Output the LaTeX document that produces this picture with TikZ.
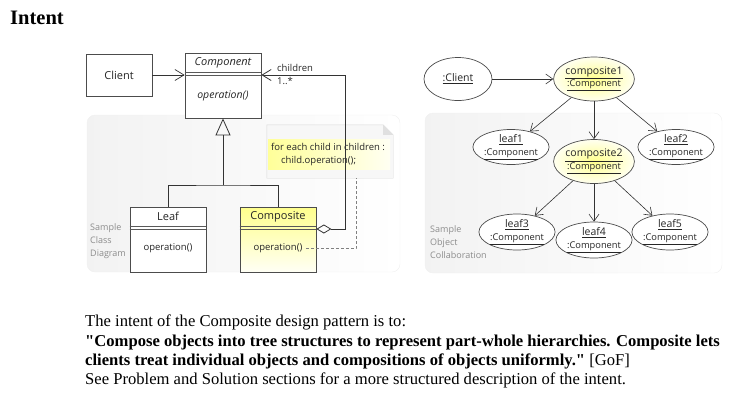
\documentclass[tikz,border=0pt]{standalone}
\usepackage{fontspec}
\setmainfont{Liberation Serif}[Ligatures=TeXOff]
\newfontfamily\umlfont{Open Sans}
\newcommand\objtype[1]{{\fontsize{9.3}{10}\selectfont\underline{#1}}}
\usepackage{tikz}
\usetikzlibrary{shapes,arrows.meta,positioning,calc}

\begin{document}
\begin{tikzpicture}[x=1pt, y=-1pt,
        cls/.style={rectangle, draw=black!70, line width=0.8pt, minimum width=76pt, minimum height=65pt, inner sep=0pt, fill=white},
        actor/.style={cls, minimum width=66pt, minimum height=42pt, font=\umlfont\fontsize{11}{12}\selectfont, text=black!85},
        hot/.style={top color=yellow!45, bottom color=yellow!4},
        hotobj/.style={inner color=yellow!45, outer color=yellow!6},
        obj/.style={ellipse, draw=black!70, line width=0.7pt, fill=white, inner sep=0pt, align=center, text=black!85, font=\umlfont\fontsize{10.5}{12.5}\selectfont},
        lbl/.style={font=\umlfont\fontsize{11}{12}\selectfont, text=black!85},
        op/.style={font=\umlfont\fontsize{9.5}{11}\selectfont, text=black!85},
        role/.style={font=\umlfont\fontsize{9.5}{10}\selectfont, text=black!85, anchor=west, inner sep=0pt},
        notetext/.style={font=\umlfont\fontsize{9.5}{10}\selectfont, text=black!85, anchor=west, inner sep=0pt},
        sep/.style={draw=black!65, line width=0.6pt},
        panel/.style={rounded corners=8pt, draw=black!6, left color=black!5, right color=white},
        hint/.style={font=\umlfont\fontsize{9}{13}\selectfont, text=black!45, align=left, anchor=north west, inner sep=0pt},
        gen/.style={line width=0.8pt, draw=black!80},
        inherit/.style={arrows={-Triangle[open, length=17pt, width=15pt]}},
        assoc/.style={arrows={-Straight Barb[length=9pt, width=11pt]}, line width=0.7pt, draw=black!80},
        aggr/.style={arrows={Diamond[open, length=15pt, width=9pt]-Straight Barb[length=9pt, width=11pt]}, line width=0.8pt, draw=black!80},
        link/.style={arrows={-Straight Barb[length=7pt, width=10pt]}, line width=0.6pt, draw=black!80},
        para/.style={anchor=north west, align=left, inner sep=0pt, font=\fontsize{16.6}{19.3}\selectfont}]

    \useasboundingbox (0,0) rectangle (750,408);

    \node[anchor=base west, inner sep=0pt, font=\bfseries\fontsize{20.5}{24}\selectfont] (title) at (10,24) {Intent};

    % class diagram
    \path[panel] (87,115) rectangle (400,272);
    \node[hint] (classHint) at (90,223) {Sample\\Class\\Diagram};

    \node[actor] (client) at (119,75) {Client};
    \node[cls] (component) at (223,85.5) {};
    \node[cls] (leaf) at (168,239.5) {};
    \node[cls, hot] (composite) at (278,239.5) {};

    \node[lbl] at ([yshift=-10pt]component.north) {\itshape Component};
    \node[op] at ([yshift=-43pt]component.north) {\fontsize{10.5}{11}\selectfont\itshape operation()};
    \node[lbl] at ([yshift=-10pt]leaf.north) {Leaf};
    \node[op] (leafOp) at ([yshift=-42pt]leaf.north) {operation()};
    \node[lbl] at ([yshift=-10pt]composite.north) {Composite};
    \node[op] (compOp) at ([yshift=-42pt]composite.north) {operation()};

    \foreach \c in {component, leaf, composite} {
        \draw[sep] ([yshift=-20pt]\c.north west) -- ([yshift=-20pt]\c.north east);
        \draw[sep] ([yshift=-23pt]\c.north west) -- ([yshift=-23pt]\c.north east);
    }

    \node[minimum width=126pt, minimum height=53pt, inner sep=0pt] (note) at (330,151.5) {};
    \draw[draw=black!15, fill=black!3] (note.south west) -- (note.north west) -- ([xshift=-10pt]note.north east)
        -- ([yshift=-10pt]note.north east) -- (note.south east) -- cycle;
    \fill[black!12] ([xshift=-10pt]note.north east) -- ([xshift=-10pt, yshift=-10pt]note.north east) -- ([yshift=-10pt]note.north east) -- cycle;
    \fill[left color=yellow!40, right color=yellow!5] (268,139) rectangle (390,169);
    \node[notetext] (loop) at (271,147) {for each child in children :};
    \node[notetext] (call) at (281,161) {child.operation();};

    \draw[assoc] (client.east) -- (client.east -| component.west);

    \coordinate (fork) at (223,185);
    \draw[gen] (leaf.north) |- (fork) -| (composite.north);
    \draw[gen, inherit] (fork) -- (component.south);

    \coordinate (bend) at (345,75);
    \draw[aggr] ([yshift=10.5pt]composite.east) -| (bend) -- ([yshift=10.5pt]component.east);
    \node[role] at (277,68) {children};
    \node[role] at (277,81) {1..*};

    \draw[draw=black!50, line width=0.6pt, dash pattern=on 3pt off 2pt] (compOp.east) -| ([xshift=26pt]note.south);

    % object collaboration
    \path[panel] (425,113) rectangle (722,273);
    \node[hint] (objHint) at (430,225) {Sample\\Object\\Collaboration};

    \node[obj, minimum width=68pt, minimum height=43pt] (clientObj) at (458,79) {\underline{:Client}};
    \node[obj, hotobj, minimum width=78pt, minimum height=44pt] (compA) at (594,79)
        {\underline{composite1}\\\objtype{:Component}};
    \node[obj, minimum width=66pt, minimum height=32pt] (leafA) at (511,147)
        {\underline{leaf1}\\\objtype{:Component}};
    \node[obj, minimum width=66pt, minimum height=32pt] (leafB) at (676,147)
        {\underline{leaf2}\\\objtype{:Component}};
    \node[obj, hotobj, minimum width=78pt, minimum height=44pt] (compB) at (594,161.5)
        {\underline{composite2}\\\objtype{:Component}};
    \node[obj, minimum width=70pt, minimum height=36pt] (leafC) at (517,232)
        {\underline{leaf3}\\\objtype{:Component}};
    \node[obj, minimum width=66pt, minimum height=36pt] (leafD) at (594,240)
        {\underline{leaf4}\\\objtype{:Component}};
    \node[obj, minimum width=66pt, minimum height=36pt] (leafE) at (670,232)
        {\underline{leaf5}\\\objtype{:Component}};

    \draw[link] (clientObj) -- (compA);
    \foreach \a/\b in {compA/leafA, compA/compB, compA/leafB, compB/leafC, compB/leafD, compB/leafE}
        \draw[link] (\a) -- (\b);

    \node[para] (intro) at (85,315) {The intent of the Composite design pattern is to:\\
        \textbf{"Compose objects into tree structures to represent part-whole hierarchies. Composite lets}\\
        \textbf{clients treat individual objects and compositions of objects uniformly."} [GoF]\\
        See Problem and Solution sections for a more structured description of the intent.};

\end{tikzpicture}
\end{document}
